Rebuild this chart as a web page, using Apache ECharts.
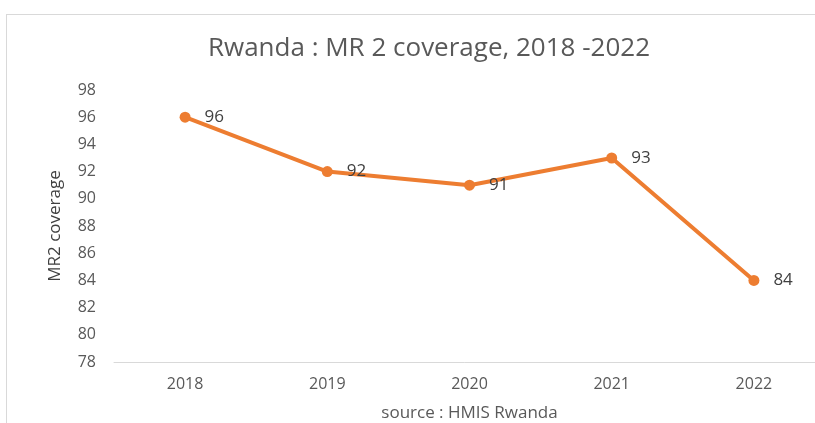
<!DOCTYPE html>
<html>
<head>
<meta charset="utf-8">
<script src="https://cdn.jsdelivr.net/npm/echarts@6/dist/echarts.min.js"></script>
<style>
	html, body { margin: 0; padding: 0; background: #fff; }
	.frame {
		position: absolute;
		left: 6px;
		top: 14px;
		width: 830px;
		height: 430px;
		border-left: 1px solid #d9d9d9;
		border-top: 1px solid #d9d9d9;
	}
	.chart {
		position: absolute;
		left: 0;
		top: 0;
		width: 815px;
		height: 423px;
	}
</style>
</head>
<body>
<div class="frame"></div>
<div class="chart" id="chart"></div>
<script>
const years = ['2018', '2019', '2020', '2021', '2022']
const coverage = [96, 92, 91, 93, 84]

const chart = echarts.init(document.getElementById('chart'))
chart.setOption({
	animation: false,
	textStyle: { fontFamily: 'Open Sans, Noto Sans, sans-serif' },
	title: {
		text: 'Rwanda : MR 2 coverage, 2018 -2022',
		left: 424,
		top: 31,
		textAlign: 'center',
		textStyle: {
			fontSize: 26,
			fontWeight: 'normal',
			color: '#595959',
			fontFamily: 'Open Sans, Noto Sans, sans-serif'
		}
	},
	grid: {
		left: 114,
		top: 90,
		width: 711,
		height: 272,
		outerBoundsMode: 'none'
	},
	xAxis: {
		type: 'category',
		data: years,
		name: 'source : HMIS Rwanda',
		nameLocation: 'middle',
		nameGap: 43,
		nameTextStyle: { fontSize: 17, color: '#595959' },
		axisLine: { lineStyle: { color: '#d9d9d9', width: 1 } },
		axisTick: { show: false },
		axisLabel: { fontSize: 16, color: '#595959', margin: 14 }
	},
	yAxis: {
		type: 'value',
		min: 78,
		max: 98,
		interval: 2,
		name: 'MR2 coverage',
		nameLocation: 'middle',
		nameRotate: 90,
		nameGap: 50,
		nameTextStyle: { fontSize: 17, color: '#404040' },
		axisLine: { show: false },
		axisTick: { show: false },
		splitLine: { show: false },
		axisLabel: { fontSize: 16, color: '#595959', margin: 18 }
	},
	series: [
		{
			type: 'line',
			data: coverage,
			symbol: 'circle',
			symbolSize: 11,
			lineStyle: { color: '#ED7D31', width: 4 },
			itemStyle: { color: '#ED7D31' },
			label: {
				show: true,
				position: 'right',
				distance: 14,
				fontSize: 17,
				color: '#404040'
			}
		}
	]
})
</script>
</body>
</html>
